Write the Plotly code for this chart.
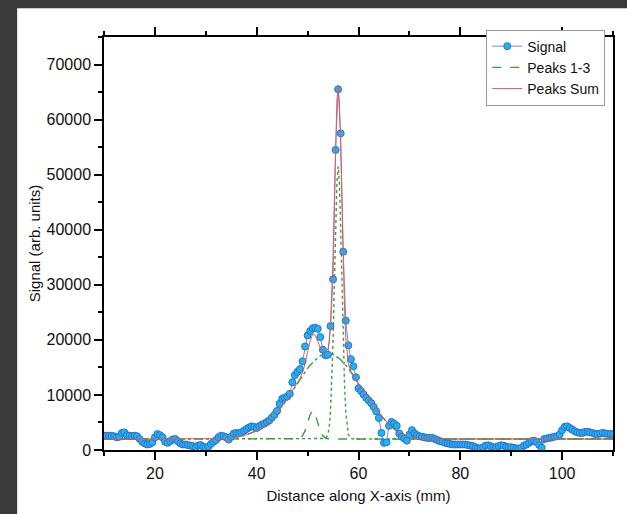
import plotly.graph_objects as go

# Measured signal, sampled every 0.5 mm from 10 mm to 110 mm
signal = [
    2600, 2600, 2600, 2550, 2500, 2300, 2400, 3100, 3200, 2700,      # 10.0 - 14.5
    2600, 2500, 2600, 2500, 2000, 1500, 1200, 1000, 1100, 1400,      # 15.0 - 19.5
    2300, 2900, 2700, 2300, 1500, 1300, 1600, 1900, 2000, 1600,      # 20.0 - 24.5
    1200, 1000, 1000, 900, 800, 700, 500, 800, 900, 600,             # 25.0 - 29.5
    400, 600, 1100, 1500, 1800, 2300, 2600, 2500, 2300, 1900,        # 30.0 - 34.5
    2400, 3000, 3100, 3000, 3200, 3500, 3800, 4100, 4300, 4200,      # 35.0 - 39.5
    4000, 4300, 4600, 4800, 5100, 5400, 5900, 6400, 7100, 8400,      # 40.0 - 44.5
    9300, 9500, 9700, 10200, 12300, 13600, 14200, 14700, 16100, 18800,   # 45.0 - 49.5
    20800, 21600, 22100, 22200, 22000, 20500, 18200, 17200, 17300, 22500,  # 50.0 - 54.5
    31000, 54500, 65500, 57500, 36000, 23500, 19000, 16500, 15200, 13200,  # 55.0 - 59.5
    11200, 10700, 10100, 9500, 9000, 8500, 7800, 7000, 5800, 3100,   # 60.0 - 64.5
    1300, 1400, 4400, 5100, 4800, 4400, 3000, 2400, 2100, 1700,      # 65.0 - 69.5
    2800, 3600, 3000, 2700, 2500, 2400, 2300, 2200, 2200, 2200,      # 70.0 - 74.5
    2000, 1800, 1600, 1500, 1300, 1200, 1100, 1000, 1000, 1000,      # 75.0 - 79.5
    1000, 1000, 1000, 900, 800, 700, 500, 300, 300, 500,             # 80.0 - 84.5
    800, 850, 700, 500, 500, 700, 850, 800, 600, 500,                # 85.0 - 89.5
    500, 400, 300, 240, 400, 800, 1000, 1300, 1600, 1700,            # 90.0 - 94.5
    1400, 900, 400, 2000, 2100, 2200, 2300, 2400, 2500, 2800,        # 95.0 - 99.5
    3600, 4200, 4300, 4000, 3700, 3400, 3200, 3100, 3100, 3300,      # 100.0 - 104.5
    3300, 3200, 3100, 2900, 2900, 3000, 3100, 3000, 2900, 2900,      # 105.0 - 109.5
    2900,                                                            # 110.0
]
x_start_mm = 10.0
x_step_mm = 0.5
distance = [x_start_mm + x_step_mm * i for i in range(len(signal))]

# Fitted peak components (each drawn on top of the constant baseline)
baseline = 2000
fit_x = [10, 20, 28, 30, 32, 34, 36, 38, 40, 42, 44, 46, 47, 48, 48.5, 49, 49.5,
         50, 50.5, 51, 51.5, 52, 52.5, 53, 53.5, 54, 54.25, 54.5, 54.75, 55,
         55.25, 55.5, 55.75, 56, 56.25, 56.5, 56.75, 57, 57.25, 57.5, 57.75, 58,
         58.5, 59, 60, 62, 64, 66, 68, 70, 72, 74, 76, 78, 80, 90, 100, 110]

peak_small = [2000, 2000, 2000, 2000, 2000, 2000, 2000, 2000, 2000, 2000, 2000, 2000, 2000,
              2035, 2160, 2560, 3470, 4930, 6440, 7100, 6440, 4930, 3470, 2560, 2160,
              2035, 2010, 2000, 2000, 2000, 2000, 2000, 2000, 2000, 2000, 2000, 2000,
              2000, 2000, 2000, 2000, 2000, 2000, 2000, 2000, 2000, 2000, 2000, 2000,
              2000, 2000, 2000, 2000, 2000, 2000, 2000, 2000, 2000]

peak_narrow = [2000, 2000, 2000, 2000, 2000, 2000, 2000, 2000, 2000, 2000, 2000, 2000, 2000,
               2000, 2000, 2000, 2000, 2000, 2000, 2000, 2000, 2000, 2000, 2000, 2080,
               2840, 4170, 6980, 12050, 19840, 29870, 40360, 48430, 51500, 48430,
               40360, 29870, 19840, 12050, 6980, 4170, 2840, 2080, 2000, 2000, 2000,
               2000, 2000, 2000, 2000, 2000, 2000, 2000, 2000, 2000, 2000, 2000, 2000]

peak_broad = [2000, 2000, 2000, 2020, 2050, 2140, 2340, 2750, 3520, 4820, 6750, 9270, 10680,
              12120, 12840, 13530, 14200, 14820, 15410, 15930, 16400, 16790, 17090,
              17320, 17450, 17500, 17490, 17450, 17400, 17320, 17220, 17090, 16950,
              16790, 16600, 16400, 16170, 15930, 15680, 15410, 15130, 14820, 14200,
              13530, 12120, 9270, 6750, 4600, 3000, 2300, 2100, 2030, 2000, 2000,
              2000, 2000, 2000, 2000]

peaks_sum = [a + b + c - 2 * baseline for a, b, c in zip(peak_small, peak_narrow, peak_broad)]

GREEN = "#3A9F3A"
RED = "#E05A5A"
FONT = "Arial, Liberation Sans, sans-serif"

fig = go.Figure()

# Peak components
for ys, dash, show in [(peak_small, "dash", True), (peak_narrow, "dot", False),
                       (peak_broad, "dashdot", False)]:
    fig.add_trace(go.Scatter(
        x=fit_x, y=ys, mode="lines", name="Peaks 1-3",
        line=dict(color=GREEN, width=1.4, dash=dash),
        showlegend=show, legendrank=2,
    ))

fig.add_trace(go.Scatter(
    x=distance, y=signal, mode="lines+markers", name="Signal",
    line=dict(color="#8585D6", width=1),
    marker=dict(size=7, color="#1EB4F2", line=dict(color="#2F6FD2", width=1)),
    legendrank=1,
))

fig.add_trace(go.Scatter(
    x=fit_x, y=peaks_sum, mode="lines", name="Peaks Sum",
    line=dict(color=RED, width=1), legendrank=3,
))

# Dark frame with the white chart sheet on top of it
fig.add_shape(type="rect", xref="paper", yref="paper",
              x0=-87 / 510, x1=1.1, y0=-0.3, y1=444 / 415,
              fillcolor="white", line=dict(width=0), layer="below")

fig.update_layout(
    width=627, height=514,
    margin=dict(l=104, r=13, t=37, b=62),
    paper_bgcolor="#3A3A3A",
    plot_bgcolor="white",
    font=dict(family=FONT, size=16, color="#111111"),
    showlegend=True,
    legend=dict(
        x=0.751, y=1.018, xanchor="left", yanchor="top",
        bgcolor="white", bordercolor="#9A9A9A", borderwidth=1,
        font=dict(family=FONT, size=14, color="#111111"),
        itemwidth=30, tracegroupgap=0,
    ),
)

fig.update_xaxes(
    range=[10, 110], title_text="Distance along X-axis (mm)",
    title_font=dict(size=15), title_standoff=10,
    showgrid=False, zeroline=False,
    showline=True, linecolor="black", linewidth=1.5, mirror="ticks",
    ticks="outside", ticklen=8, tickwidth=1.5, tickcolor="black",
    dtick=20, tick0=0,
    minor=dict(ticks="outside", ticklen=4, tickwidth=1.5, tickcolor="black", dtick=10),
)
fig.update_yaxes(
    range=[0, 75000], title_text="Signal (arb. units)",
    title_font=dict(size=15), title_standoff=2,
    showgrid=False, zeroline=False,
    showline=True, linecolor="black", linewidth=1.5, mirror=True,
    ticks="outside", ticklen=8, tickwidth=1.5, tickcolor="black",
    dtick=10000, tick0=0, tickformat="d",
    minor=dict(ticks="outside", ticklen=4, tickwidth=1.5, tickcolor="black", dtick=5000),
)

fig.write_html("out.html")
